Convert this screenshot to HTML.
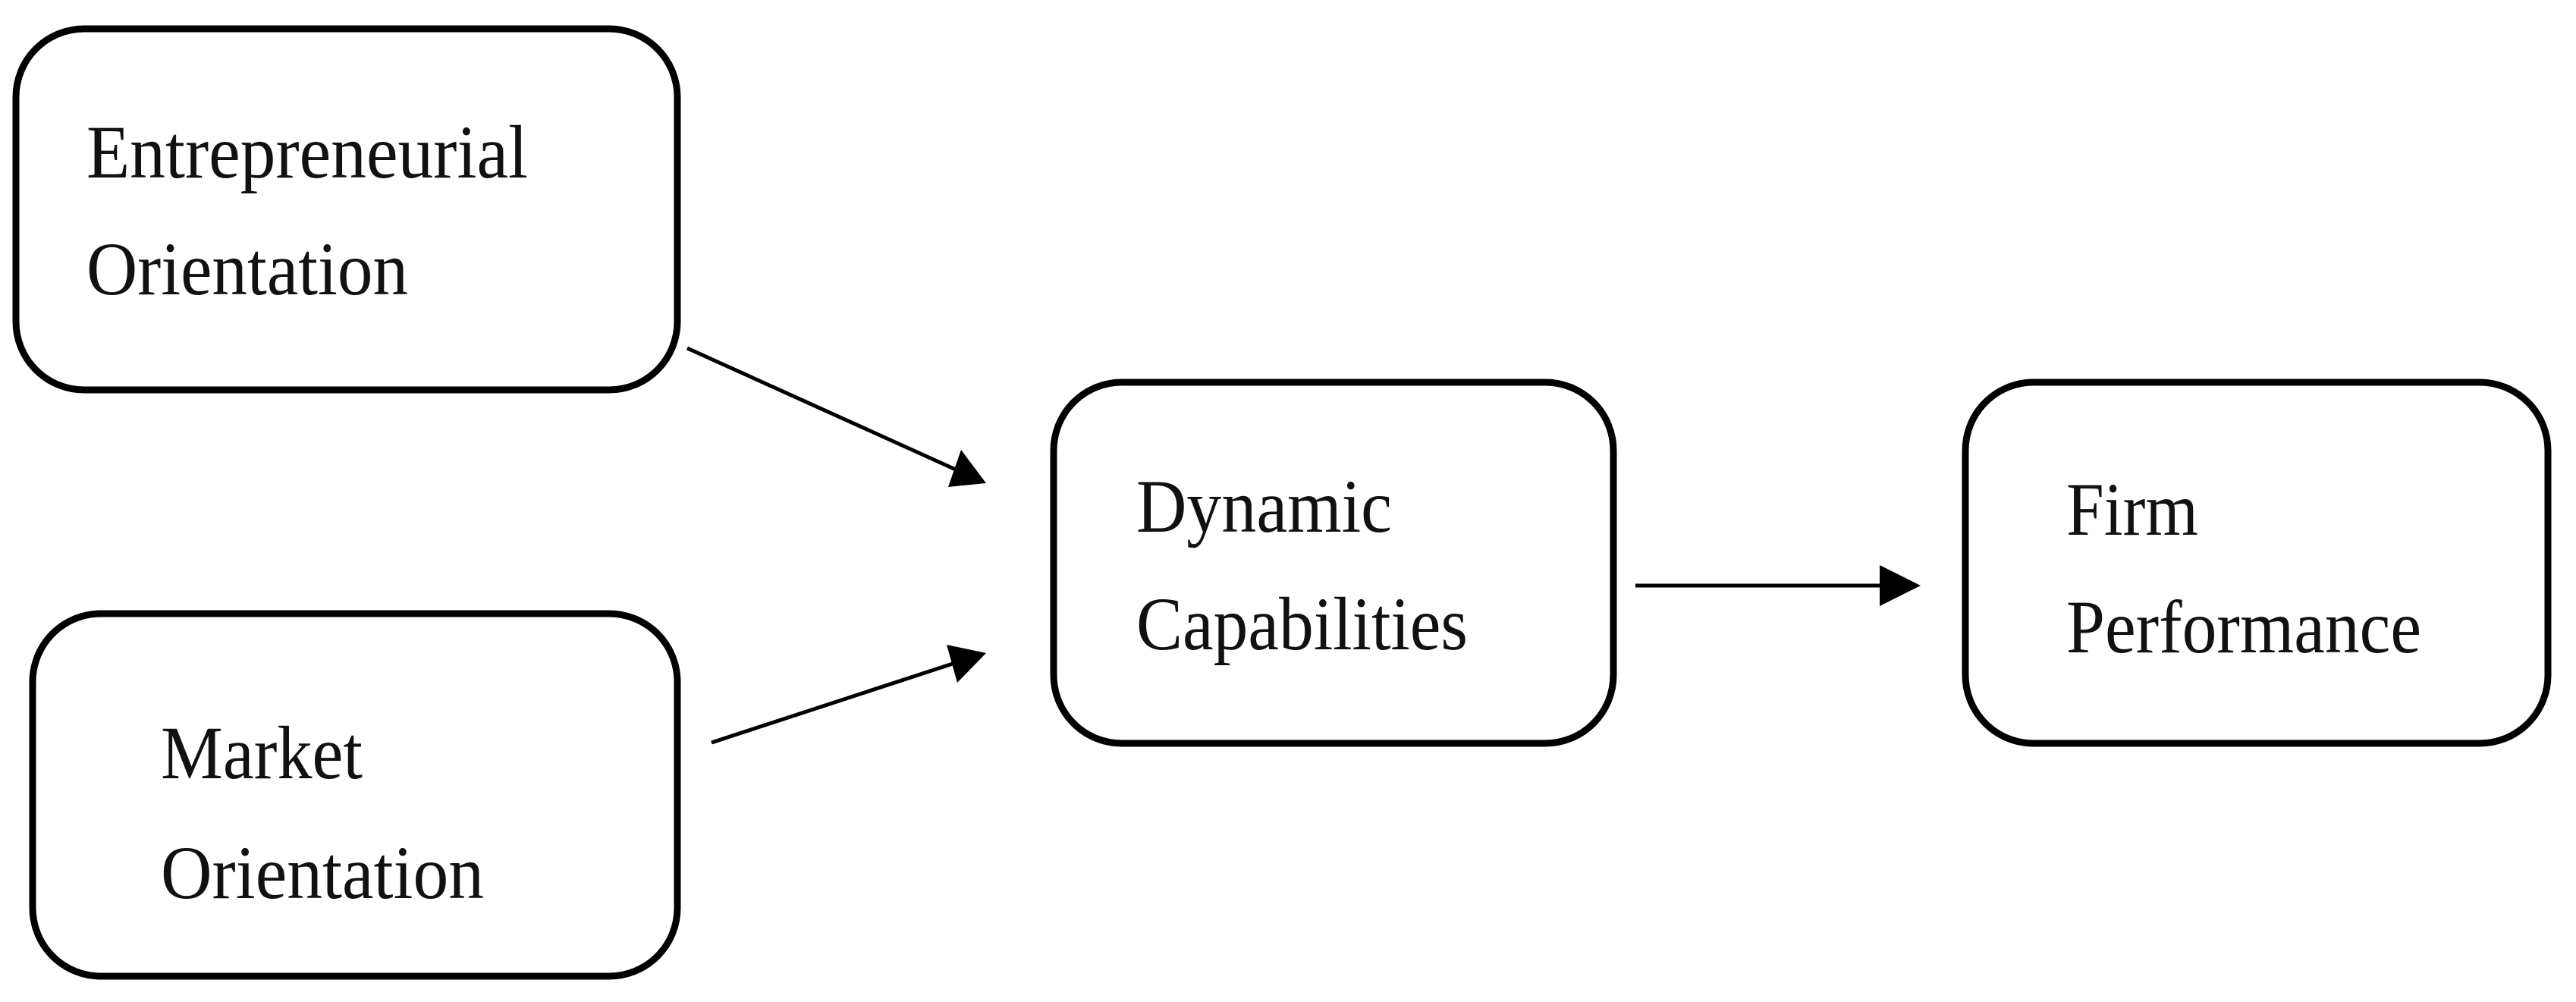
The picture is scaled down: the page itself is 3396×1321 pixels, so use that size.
<!DOCTYPE html>
<html><head><meta charset="utf-8"><style>html,body{margin:0;padding:0;background:#fff}svg{display:block}</style></head>
<body>
<svg width="3396" height="1321" viewBox="0 0 3396 1321" xmlns="http://www.w3.org/2000/svg">
<g fill="#fff" stroke="#000" stroke-width="9">
<rect x="21" y="38" width="872" height="476" rx="90" ry="90"/>
<rect x="43" y="809" width="850" height="478" rx="90" ry="90"/>
<rect x="1389" y="504" width="738" height="476" rx="90" ry="90"/>
<rect x="2591" y="504" width="768" height="476" rx="90" ry="90"/>
</g>
<g stroke="#000" stroke-width="5" fill="none">
<line x1="906" y1="459" x2="1262" y2="620"/>
<line x1="938" y1="979" x2="1262" y2="873"/>
<line x1="2156" y1="772" x2="2480" y2="772"/>
</g>
<g fill="#000">
<polygon points="1300,637 1267,593 1250,642"/>
<polygon points="1300,861 1248,850 1262,900"/>
<polygon points="2532,772 2478,745 2478,799"/>
</g>
<g font-family="Liberation Serif, serif" font-size="100" fill="#111">
<text x="114" y="234" textLength="582" lengthAdjust="spacingAndGlyphs">Entrepreneurial</text>
<text x="114" y="388" textLength="424" lengthAdjust="spacingAndGlyphs">Orientation</text>
<text x="212" y="1026" textLength="266" lengthAdjust="spacingAndGlyphs">Market</text>
<text x="212" y="1184" textLength="426" lengthAdjust="spacingAndGlyphs">Orientation</text>
<text x="1498" y="701" textLength="337" lengthAdjust="spacingAndGlyphs">Dynamic</text>
<text x="1498" y="856" textLength="437" lengthAdjust="spacingAndGlyphs">Capabilities</text>
<text x="2724" y="705" textLength="174" lengthAdjust="spacingAndGlyphs">Firm</text>
<text x="2724" y="860" textLength="468" lengthAdjust="spacingAndGlyphs">Performance</text>
</g>
</svg>
</body></html>
